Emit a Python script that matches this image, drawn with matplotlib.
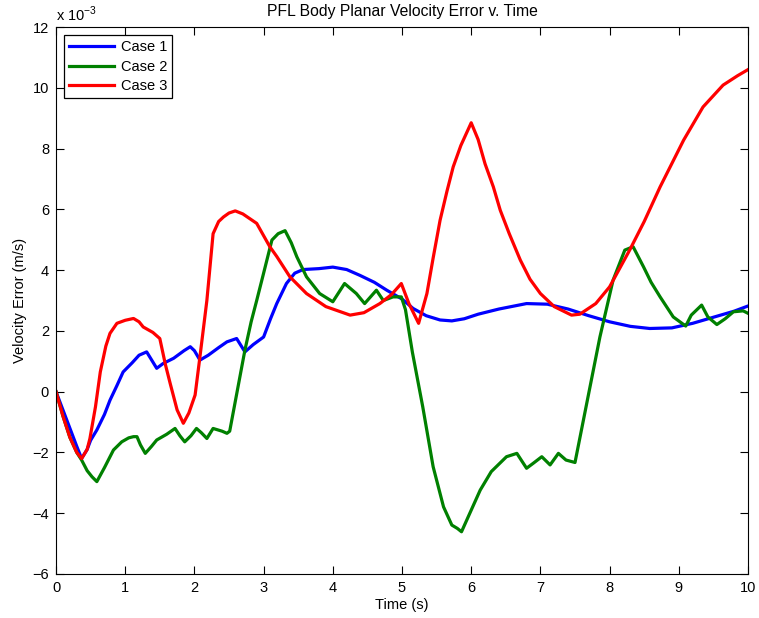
import matplotlib
matplotlib.use("Agg")
import matplotlib.pyplot as plt

plt.rcParams["font.family"] = ["Liberation Sans", "DejaVu Sans"]
plt.rcParams["font.size"] = 10

# Velocity error (x 1e-3 m/s) sampled over time for each case
t_case1 = [0, 0.1, 0.2, 0.3, 0.37, 0.45, 0.5, 0.59, 0.7, 0.78, 0.88, 0.97, 1.1, 1.2, 1.31,
           1.38, 1.455, 1.55, 1.7, 1.85, 1.94, 2.0, 2.08, 2.2, 2.35, 2.47, 2.61, 2.73, 2.85,
           3.0, 3.1, 3.19, 3.33, 3.45, 3.57, 3.8, 4.0, 4.2, 4.39, 4.6, 4.78, 5.0, 5.16, 5.35,
           5.55, 5.72, 5.9, 6.1, 6.4, 6.8, 7.1, 7.4, 7.7, 8.0, 8.3, 8.58, 8.9, 9.2, 9.5, 9.8, 10]
v_case1 = [0, -0.6, -1.2, -1.8, -2.2, -1.9, -1.6, -1.26, -0.75, -0.28, 0.2, 0.65, 0.95, 1.2, 1.31,
           1.05, 0.77, 0.93, 1.1, 1.35, 1.48, 1.35, 1.04, 1.2, 1.45, 1.64, 1.75, 1.31, 1.55,
           1.8, 2.4, 2.9, 3.56, 3.9, 4.02, 4.05, 4.1, 4.02, 3.83, 3.6, 3.34, 3.05, 2.74, 2.5,
           2.36, 2.33, 2.4, 2.55, 2.72, 2.9, 2.88, 2.72, 2.5, 2.3, 2.15, 2.08, 2.1, 2.25, 2.45, 2.65, 2.82]

t_case2 = [0, 0.1, 0.2, 0.3, 0.37, 0.45, 0.52, 0.59, 0.7, 0.83, 0.95, 1.05, 1.12, 1.17, 1.22,
           1.29, 1.38, 1.455, 1.6, 1.72, 1.79, 1.86, 1.95, 2.03, 2.1, 2.18, 2.27, 2.4, 2.47,
           2.51, 2.73, 2.82, 2.9, 3.0, 3.12, 3.21, 3.31, 3.4, 3.48, 3.62, 3.81, 4.0, 4.17,
           4.34, 4.46, 4.63, 4.73, 4.87, 4.99, 5.05, 5.15, 5.3, 5.45, 5.6, 5.72, 5.8, 5.86,
           5.98, 6.13, 6.29, 6.51, 6.66, 6.8, 6.9, 7.02, 7.14, 7.26, 7.37, 7.5, 7.86, 8.05,
           8.22, 8.34, 8.49, 8.6, 8.73, 8.92, 9.1, 9.18, 9.33, 9.42, 9.55, 9.67, 9.79, 9.93, 10]
v_case2 = [0, -0.8, -1.5, -2.0, -2.25, -2.6, -2.8, -2.96, -2.5, -1.92, -1.65, -1.52, -1.48, -1.48, -1.75,
           -2.03, -1.8, -1.59, -1.4, -1.21, -1.45, -1.65, -1.45, -1.21, -1.35, -1.54, -1.21, -1.3, -1.37,
           -1.3, 1.37, 2.3, 3.0, 3.9, 4.99, 5.2, 5.3, 4.9, 4.44, 3.78, 3.23, 2.96, 3.56,
           3.23, 2.9, 3.34, 3.0, 3.12, 3.12, 2.7, 1.3, -0.5, -2.47, -3.79, -4.39, -4.5, -4.61,
           -4.0, -3.24, -2.63, -2.14, -2.03, -2.52, -2.35, -2.14, -2.41, -2.03, -2.25, -2.33, 1.8, 3.67,
           4.66, 4.77, 4.11, 3.6, 3.12, 2.46, 2.16, 2.52, 2.85, 2.46, 2.21, 2.4, 2.63, 2.66, 2.58]

t_case3 = [0, 0.1, 0.2, 0.3, 0.37, 0.45, 0.49, 0.57, 0.64, 0.72, 0.78, 0.88, 1.0, 1.12, 1.2,
           1.26, 1.4, 1.5, 1.58, 1.65, 1.75, 1.84, 1.92, 2.01, 2.08, 2.18, 2.27, 2.35, 2.42,
           2.5, 2.59, 2.7, 2.9, 3.09, 3.19, 3.38, 3.62, 3.9, 4.25, 4.45, 4.68, 4.85, 4.99,
           5.1, 5.24, 5.36, 5.45, 5.55, 5.65, 5.74, 5.85, 6.0, 6.1, 6.2, 6.32, 6.42, 6.55,
           6.71, 6.85, 7.0, 7.2, 7.45, 7.57, 7.8, 8.0, 8.29, 8.5, 8.73, 9.07, 9.35, 9.64, 9.85, 10]
v_case3 = [0, -0.8, -1.5, -2.0, -2.2, -1.9, -1.54, -0.5, 0.65, 1.5, 1.92, 2.25, 2.35, 2.41, 2.3,
           2.13, 1.95, 1.75, 0.9, 0.27, -0.6, -1.04, -0.7, -0.11, 1.15, 3.0, 5.2, 5.6, 5.75,
           5.88, 5.95, 5.85, 5.54, 4.77, 4.45, 3.78, 3.23, 2.8, 2.52, 2.6, 2.9, 3.2, 3.56,
           2.9, 2.25, 3.23, 4.4, 5.64, 6.6, 7.4, 8.1, 8.85, 8.3, 7.5, 6.74, 5.97, 5.2,
           4.33, 3.7, 3.23, 2.8, 2.52, 2.55, 2.9, 3.45, 4.66, 5.6, 6.74, 8.28, 9.37, 10.09, 10.4, 10.6]

x_ticks = list(range(0, 11))
y_ticks = list(range(-6, 13, 2))

fig = plt.figure(figsize=(7.59, 6.18), dpi=100)
ax = fig.add_axes([0.0738, 0.0712, 0.9117, 0.885])

ax.plot(t_case1, v_case1, color=(0, 0, 1), lw=2.3, label="Case 1")
ax.plot(t_case2, v_case2, color=(0, 0.5, 0), lw=2.3, label="Case 2")
ax.plot(t_case3, v_case3, color=(1, 0, 0), lw=2.3, label="Case 3")

ax.set_xlim(0, 10)
ax.set_ylim(-6, 12)
ax.set_xticks(x_ticks)
ax.set_yticks(y_ticks)
ax.tick_params(direction="in", top=True, right=True, length=6, width=0.8, pad=5,
               labelsize=10.5)
for sp in ax.spines.values():
    sp.set_linewidth(0.8)

ax.set_xlabel("Time (s)", labelpad=2, fontsize=10.5)
ax.set_ylabel("Velocity Error (m/s)", labelpad=4, fontsize=10.5)
ax.set_title("PFL Body Planar Velocity Error v. Time", pad=8, fontsize=11.3)
ax.text(0, 1.006, r"x 10$^{\mathregular{-3}}$", transform=ax.transAxes,
        ha="left", va="bottom", fontsize=10.5)

leg = ax.legend(loc="upper left", fancybox=False, edgecolor="black", framealpha=1,
                fontsize=10.5, handlelength=3.1, borderpad=0.35, labelspacing=0.38,
                handletextpad=0.45, borderaxespad=0.55)
leg.get_frame().set_linewidth(0.9)

fig.savefig("out.png", dpi=100)
